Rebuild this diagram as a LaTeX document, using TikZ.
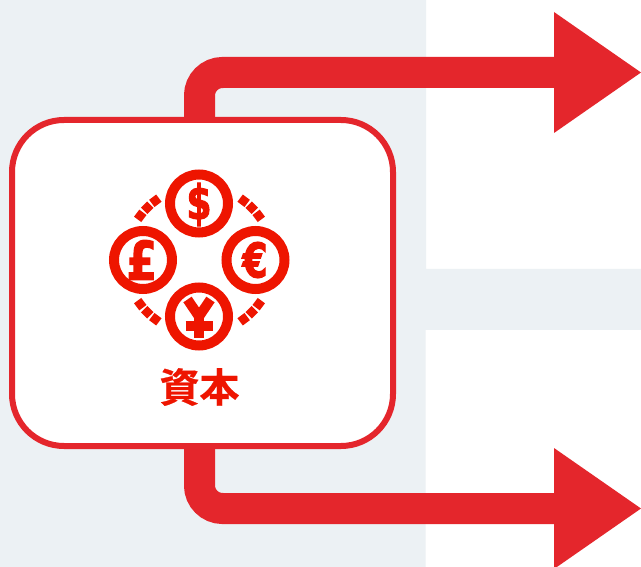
\documentclass[tikz,border=0pt]{standalone}
\usepackage{fontspec}
\newfontfamily\symfont[FakeBold=2.6]{DejaVu Sans Bold}
\newfontfamily\cjkfont[FakeBold=0.6]{Noto Sans CJK JP Bold}
\definecolor{pipered}{HTML}{E4262C}
\definecolor{iconred}{HTML}{EE1500}
\definecolor{panel}{HTML}{ECF1F4}
\tikzset{
  x=1pt,y=-1pt,
  pipe/.style={draw=pipered,line width=31pt,rounded corners=23pt},
  head/.style={fill=pipered,draw=none},
  coin/.style={circle,draw=iconred,line width=10pt,minimum size=58pt,inner sep=0pt},
  cursym/.style={text=iconred,inner sep=0pt,transform shape,font=\symfont\fontsize{38}{38}\selectfont},
  dashseg/.style={draw=iconred,line width=9pt},
  yenbar/.style={draw=iconred,line width=10pt},
}
\begin{document}
\begin{tikzpicture}
\useasboundingbox (0,0) rectangle (641,567);
\fill[white] (0,0) rectangle (641,567);
\fill[panel] (0,0) -- (426,0) -- (426,269) -- (641,269) -- (641,330) -- (425.5,330) -- (425.5,567) -- (0,567) -- cycle;
% box
\node[draw=pipered,fill=white,line width=6pt,rounded corners=52pt,minimum width=381pt,minimum height=326pt,inner sep=0pt,outer sep=0pt] (box) at (202.5,283) {};
% connectors
\coordinate (topcorner) at (199.5,72.5);
\coordinate (topend) at (556,72.5);
\coordinate (botcorner) at (199.5,508.5);
\coordinate (botend) at (556,508.5);
\draw[pipe] (box.north -| topcorner) -- (topcorner) -- (topend);
\draw[pipe] (box.south -| botcorner) -- (botcorner) -- (botend);
\coordinate (toptip) at (641,72.5);
\coordinate (bottip) at (641,508.5);
\fill[head] (554,12) -- (toptip) -- (554,133) -- cycle;
\fill[head] (554,448) -- (bottip) -- (554,569) -- cycle;
% coins
\node[coin] (dollar) at (199,203.5) {};
\node[coin] (pound) at (143,260) {};
\node[coin] (euro) at (255.5,260) {};
\node[coin] (yen) at (199,316.5) {};
\node[cursym,xscale=0.95,yscale=1.25] (dollarsym) at (199,204.5) {\$};
\node[cursym,xscale=1.15,yscale=1.4] (poundsym) at (141.7,260) {£};
\node[cursym,xscale=0.95,yscale=1.25] (eurosym) at (255,260) {€};
\draw[yenbar] (yen.center) ++(-11.5,-17) -- ++(11.5,17) -- ++(11.5,-17);
\draw[yenbar] (yen.center) -- ++(0,21.5);
\draw[yenbar] (yen.center) ++(-13.5,9.5) -- ++(27,0);
% dashes
\begin{scope}[shift={(199.5,260)}]
\foreach \q in {45,135,225,315}
  \foreach \d in {-8.3,0,8.3}
    \draw[dashseg] ({\q+\d-3.4}:74) -- ({\q+\d+3.4}:74);
\end{scope}
% label
\node[text=iconred,font=\cjkfont\fontsize{40}{40}\selectfont,inner sep=0pt] (label) at (199.5,387) {資本};
\end{tikzpicture}
\end{document}
